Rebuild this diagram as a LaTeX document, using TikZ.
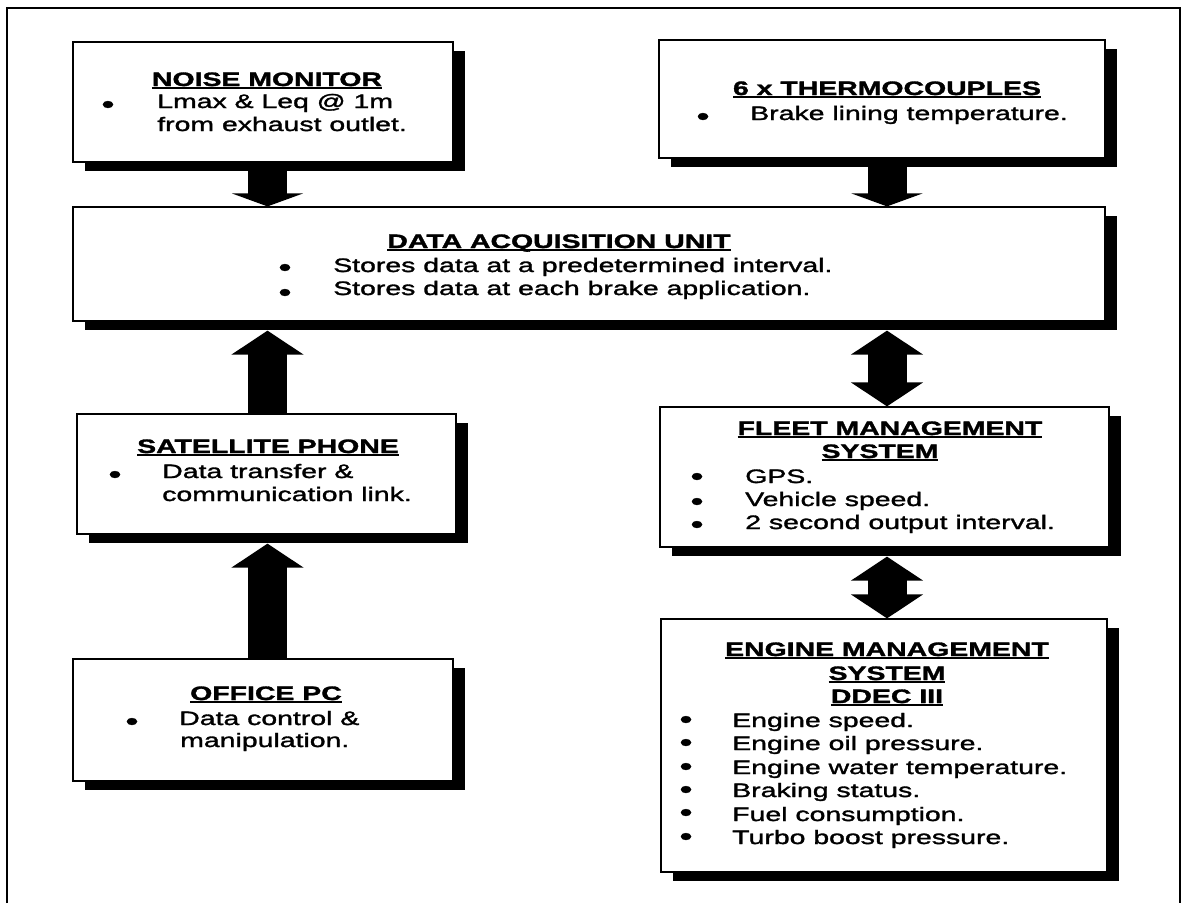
\documentclass[tikz,border=0pt]{standalone}
\usepackage{fontspec}
\setmainfont{Liberation Sans}[FakeStretch=1.46, FakeBold=1.6]
\usetikzlibrary{arrows.meta,shadows,calc}
\newsavebox\ulbx
\newcommand\myul[1]{\sbox\ulbx{#1}\rlap{\rule[-2.6pt]{\wd\ulbx}{1.5pt}}\usebox\ulbx}
\begin{document}
\begin{tikzpicture}[x=0.75pt,y=-0.75pt,
  every node/.style={font=\fontsize{14.6pt}{17.5pt}\selectfont},
  box/.style={draw, line width=0.9pt, fill=white, inner sep=0pt,
    drop shadow={shadow xshift=9pt, shadow yshift=-6.75pt, opacity=1, fill=black}},
  ttl/.style={anchor=base, inner sep=0pt, font=\fontsize{14.6pt}{17.5pt}\selectfont\bfseries},
  txt/.style={anchor=base west, inner sep=0pt},
  bul/.style={anchor=center, inner sep=0pt, yshift=-1.5pt, font=\fontsize{19pt}{19pt}\selectfont},
  blk/.style={line width=29.25pt, -{Triangle[width=53.25pt,length=#1]}},
  blk/.default=9.75pt,
  dbl/.style={line width=29.25pt, {Triangle[width=53.25pt,length=18pt]}-{Triangle[width=53.25pt,length=18pt]}},
  frame/.style={line width=1.6pt}
]
\useasboundingbox (0,0) rectangle (1187,903);
\fill[white] (0,0) rectangle (1187,903);
\draw[frame] (7,903) -- (7,8) -- (1180,8) -- (1180,903);

% boxes
\node[box, minimum width=285pt, minimum height=90pt] (noise) at (263,102) {};
\node[box, minimum width=334.5pt, minimum height=88.5pt] (thermo) at (882,99) {};
\node[box, minimum width=774pt, minimum height=85.5pt] (dau) at (589,264) {};
\node[box, minimum width=284.25pt, minimum height=90pt] (sat) at (266.5,474) {};
\node[box, minimum width=285pt, minimum height=91.5pt] (pc) at (263,720) {};
\node[box, minimum width=336.75pt, minimum height=105pt] (fleet) at (884.5,477) {};
\node[box, minimum width=334.5pt, minimum height=189.75pt] (engine) at (884,745.5) {};

% arrows
\coordinate (lx) at (267.5,0);
\coordinate (rx) at (887,0);
\draw[blk] (lx |- noise.south) -- (lx |- dau.north);
\draw[blk] (rx |- thermo.south) -- (rx |- dau.north);
\draw[blk=18pt] (lx |- sat.north) -- ($(lx |- dau.south)+(0,9)$);
\draw[blk=18pt] (lx |- pc.north) -- ($(lx |- sat.south)+(0,9)$);
\draw[dbl] ($(rx |- dau.south)+(0,9)$) -- (rx |- fleet.north);
\draw[dbl] ($(rx |- fleet.south)+(0,9)$) -- (rx |- engine.north);

% noise monitor
\node[ttl] (nT) at (267,86) {\myul{NOISE MONITOR}};
\node[bul] (nB) at (108,105) {\textbullet};
\node[txt] (n1) at (157,108) {Lmax \& Leq @ 1m};
\node[txt] (n2) at (157,131) {from exhaust outlet.};

% thermocouples
\node[ttl] (tT) at (887,95) {\myul{6 x THERMOCOUPLES}};
\node[bul] (tB) at (703,117) {\textbullet};
\node[txt] (t1) at (750,120) {Brake lining temperature.};

% data acquisition unit
\node[ttl] (dT) at (559,248) {\myul{DATA ACQUISITION UNIT}};
\node[bul] (dB1) at (285,268) {\textbullet};
\node[bul] (dB2) at (285,293) {\textbullet};
\node[txt] (d1) at (333,272) {Stores data at a predetermined interval.};
\node[txt] (d2) at (333,295) {Stores data at each brake application.};

% satellite phone
\node[ttl] (sT) at (268,453) {\myul{SATELLITE PHONE}};
\node[bul] (sB) at (115,475) {\textbullet};
\node[txt] (s1) at (162,478) {Data transfer \&};
\node[txt] (s2) at (162,501) {communication link.};

% office pc
\node[ttl] (pT) at (266,700) {\myul{OFFICE PC}};
\node[bul] (pB) at (132,722) {\textbullet};
\node[txt] (p1) at (179,725) {Data control \&};
\node[txt] (p2) at (180,747) {manipulation.};

% fleet management
\node[ttl] (fT1) at (890,435) {\myul{FLEET MANAGEMENT}};
\node[ttl] (fT2) at (880,458) {\myul{SYSTEM}};
\node[bul] (fB1) at (697,477) {\textbullet};
\node[bul] (fB2) at (697,502) {\textbullet};
\node[bul] (fB3) at (697,525) {\textbullet};
\node[txt] (f1) at (745,483) {GPS.};
\node[txt] (f2) at (745,506) {Vehicle speed.};
\node[txt] (f3) at (745,529) {2 second output interval.};

% engine management
\node[ttl] (eT1) at (887,656) {\myul{ENGINE MANAGEMENT}};
\node[ttl] (eT2) at (887,680) {\myul{SYSTEM}};
\node[ttl] (eT3) at (887,703) {\myul{DDEC III}};
\node[bul] (eB1) at (686,720) {\textbullet};
\node[bul] (eB2) at (686,743) {\textbullet};
\node[bul] (eB3) at (686,767) {\textbullet};
\node[bul] (eB4) at (686,790) {\textbullet};
\node[bul] (eB5) at (686,813) {\textbullet};
\node[bul] (eB6) at (686,837) {\textbullet};
\node[txt] (e1) at (732,727) {Engine speed.};
\node[txt] (e2) at (732,750) {Engine oil pressure.};
\node[txt] (e3) at (732,774) {Engine water temperature.};
\node[txt] (e4) at (732,797) {Braking status.};
\node[txt] (e5) at (732,821) {Fuel consumption.};
\node[txt] (e6) at (732,844) {Turbo boost pressure.};
\end{tikzpicture}
\end{document}
